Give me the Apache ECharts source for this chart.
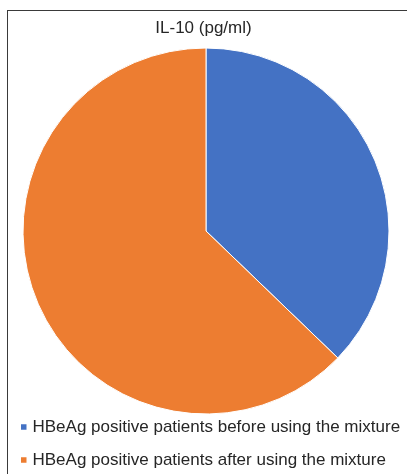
<!DOCTYPE html>
<html>
<head>
<meta charset="utf-8">
<script src="https://cdn.jsdelivr.net/npm/echarts@6/dist/echarts.min.js"></script>
<style>
html,body{margin:0;padding:0;background:#fff;}
#frame{position:absolute;left:7px;top:10px;width:420px;height:480px;border-left:1px solid #3a3a3a;border-top:1px solid #3a3a3a;}
#chart{position:absolute;left:0;top:0;width:407px;height:474px;}
</style>
</head>
<body>
<div id="frame"></div>
<div id="chart"></div>
<script>
var chartTitle = 'IL-10 (pg/ml)';
var categories = ['HBeAg positive patients before using the mixture', 'HBeAg positive patients after using the mixture'];
var values = [37.2, 62.8];
var colors = ['#4472C4', '#ED7D31'];

var fontFam = '"Liberation Sans", Arial, sans-serif';
function legendFor(i, top) {
  return {
    orient: 'vertical',
    left: 19,
    top: top,
    padding: 0,
    itemWidth: 7.5,
    itemHeight: 7.5,
    icon: 'rect',
    textStyle: {fontFamily: fontFam, fontSize: 17, color: '#262626'},
    data: [categories[i]]
  };
}

var chart = echarts.init(document.getElementById('chart'), null, {renderer: 'canvas'});
chart.setOption({
  animation: false,
  backgroundColor: 'transparent',
  title: {
    text: chartTitle,
    left: 'center',
    top: 15,
    textStyle: {fontFamily: fontFam, fontSize: 17, fontWeight: 'normal', color: '#262626'}
  },
  legend: [legendFor(0, 418.5), legendFor(1, 451.5)],
  series: [{
    type: 'pie',
    center: [206, 231],
    radius: [0, 183],
    startAngle: 90,
    clockwise: true,
    label: {show: false},
    labelLine: {show: false},
    itemStyle: {borderColor: '#ffffff', borderWidth: 1},
    emphasis: {disabled: true},
    data: categories.map(function (c, i) { return {name: c, value: values[i], itemStyle: {color: colors[i]}}; })
  }]
});
</script>
</body>
</html>
